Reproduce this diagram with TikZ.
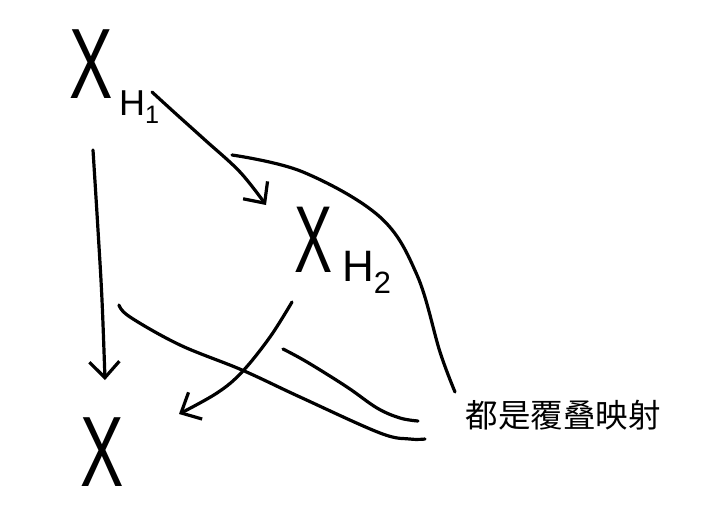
\documentclass[tikz,border=0pt]{standalone}
\usepackage{fontspec}
\setmainfont{Liberation Sans}
\newfontfamily\cjk{Noto Sans CJK SC}
\usetikzlibrary{arrows.meta}
\begin{document}
\begin{tikzpicture}[x=1pt,y=-1pt,
  stroke/.style={line width=3.2pt,line cap=round,line join=round},
  arr/.style={stroke,-{Straight Barb[length=16pt,width=30pt]}},
  bigx/.style={inner sep=0pt,font=\fontsize{100}{100}\selectfont},
  sublabel/.style={inner sep=0pt,anchor=base west,font=\fontsize{36}{36}\selectfont},
  note/.style={inner sep=0pt,font=\cjk\fontsize{32.5}{32.5}\selectfont}]
\useasboundingbox (0,0) rectangle (717,525);
% labels
\node[bigx] (xh1) at (91,64) {\scalebox{0.65}[1]{X}};
\node[sublabel] (h1) at (119,115) {H\textsubscript{1}};
\node[bigx,font=\fontsize{95}{95}\selectfont] (xh2) at (314,240) {\scalebox{0.6}[1]{X}};
\node[sublabel,font=\fontsize{44}{44}\selectfont] (h2) at (342,281) {H\textsubscript{2}};
\node[bigx] (x) at (102,452) {\scalebox{0.65}[1]{X}};
\node[note] (t) at (563,415) {都是覆叠映射};
% connector coordinates
\coordinate (a1s) at (152,92);
\coordinate (a1e) at (266,205);
\coordinate (a2s) at (93,150);
\coordinate (a2e) at (105,380);
\coordinate (a3s) at (292,302);
\coordinate (a3e) at (179,414);
\coordinate (c1s) at (232,155);
\coordinate (c1e) at (455,392);
\coordinate (c2s) at (119,305);
\coordinate (c2e) at (425,439);
\coordinate (c3s) at (283,349);
\coordinate (c3e) at (418,421);
% arrows
\draw[arr] plot[smooth,tension=0.6] coordinates {(a1s) (175,113) (205,140) (240,172) (a1e)};
\draw[arr] plot[smooth,tension=0.6] coordinates {(a2s) (98,230) (102,300) (a2e)};
\draw[arr] plot[smooth,tension=0.6] coordinates {(a3s) (270,337) (242,372) (217,393) (a3e)};
% brace-like curves
\draw[stroke] plot[smooth,tension=0.6] coordinates {(c1s) (303,172) (380,217) (417,275) (440,352) (c1e)};
\draw[stroke] plot[smooth,tension=0.6] coordinates {(c2s) (130,317) (180,345) (242,370) (300,397) (380,433) (410,439) (c2e)};
\draw[stroke] plot[smooth,tension=0.6] coordinates {(c3s) (307,362) (347,387) (377,408) (400,418) (c3e)};
\end{tikzpicture}
\end{document}
